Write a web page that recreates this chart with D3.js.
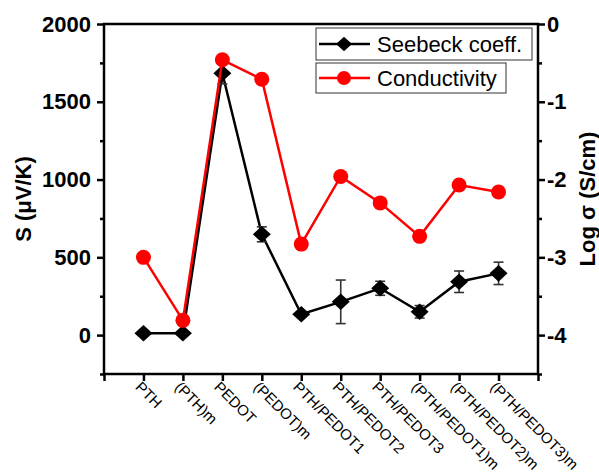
<!DOCTYPE html>
<meta charset="utf-8">
<head>
    <style>
        body {
            margin: 0;
            background: white;
            font-family: "Liberation Sans", Arial, sans-serif;
        }

        .ticklab {
            font-size: 22px;
            font-weight: bold;
        }

        .xlab {
            font-size: 15px;
        }
    </style>
</head>

<body>
    <script src="https://d3js.org/d3.v7.min.js"></script>
    <div id="graphs"></div>

    <script>
        // data
        var categories = ["PTH", "(PTH)m", "PEDOT", "(PEDOT)m", "PTH/PEDOT1", "PTH/PEDOT2",
            "PTH/PEDOT3", "(PTH/PEDOT1)m", "(PTH/PEDOT2)m", "(PTH/PEDOT3)m"];
        var seebeck = [12, 12, 1683, 648, 134, 214, 301, 150, 343, 397];
        var seebeckErr = [0, 0, 68, 48, 12, 140, 45, 40, 69, 72];
        var logSigma = [-3.0, -3.81, -0.46, -0.71, -2.83, -1.96, -2.30, -2.73, -2.07, -2.16];

        var leftTicks = [0, 500, 1000, 1500, 2000];
        var leftMinor = [-250, 250, 750, 1250, 1750];
        var rightTicks = [0, -1, -2, -3, -4];
        var rightMinor = [-0.5, -1.5, -2.5, -3.5, -4.5];

        var W = 599, H = 473;
        var pLeft = 104, pRight = 538, pTop = 24, pBottom = 374;

        var svg = d3.select("#graphs").append("svg")
            .attr("width", W)
            .attr("height", H);

        // scales
        var x = d3.scaleLinear().domain([-1, categories.length]).range([pLeft, pRight]);
        var yL = d3.scaleLinear().domain([-250, 2000]).range([pBottom, pTop]);
        var yR = d3.scaleLinear().domain([-4.5, 0]).range([pBottom, pTop]);

        // frame
        svg.append("rect")
            .attr("x", pLeft).attr("y", pTop)
            .attr("width", pRight - pLeft).attr("height", pBottom - pTop)
            .attr("fill", "none")
            .attr("stroke", "black")
            .attr("stroke-width", 2.5);

        // left axis
        var gl = svg.append("g")
            .attr("transform", "translate(" + pLeft + ",0)")
            .call(d3.axisLeft(yL).tickValues(leftTicks).tickSize(7).tickPadding(6).tickFormat(d3.format("d")));
        gl.selectAll("text").attr("class", "ticklab").attr("fill", "black");
        svg.append("g")
            .attr("transform", "translate(" + pLeft + ",0)")
            .call(d3.axisLeft(yL).tickValues(leftMinor).tickSize(4).tickFormat(""));

        // right axis
        var gr = svg.append("g")
            .attr("transform", "translate(" + pRight + ",0)")
            .call(d3.axisRight(yR).tickValues(rightTicks).tickSize(7).tickPadding(2).tickFormat(function (d) { return d === 0 ? "0" : "-" + Math.abs(d); }));
        gr.selectAll("text").attr("class", "ticklab").attr("fill", "black");
        svg.append("g")
            .attr("transform", "translate(" + pRight + ",0)")
            .call(d3.axisRight(yR).tickValues(rightMinor).tickSize(4).tickFormat(""));

        // bottom axis
        svg.append("g")
            .attr("transform", "translate(0," + pBottom + ")")
            .call(d3.axisBottom(x).tickValues(d3.range(-1, categories.length + 1)).tickSize(7).tickFormat(""));

        svg.selectAll(".domain").remove();
        svg.selectAll(".tick line").attr("stroke-width", 2.5);
        svg.selectAll("g").attr("font-family", null).attr("font-size", null);

        // category labels, rotated
        svg.append("g").selectAll("text")
            .data(categories)
            .enter()
            .append("text")
            .attr("class", "xlab")
            .attr("transform", function (d, i) { return "translate(" + (x(i) - 9) + "," + (pBottom + 14) + ") rotate(45)"; })
            .text(function (d) { return d; });

        // axis titles
        svg.append("text")
            .attr("transform", "translate(31," + ((pTop + pBottom) / 2) + ") rotate(-90)")
            .attr("text-anchor", "middle")
            .style("font-size", "22px")
            .style("font-weight", "bold")
            .text("S (μV/K)");

        svg.append("text")
            .attr("transform", "translate(595," + ((pTop + pBottom) / 2) + ") rotate(-90)")
            .attr("text-anchor", "middle")
            .style("font-size", "22px")
            .style("font-weight", "bold")
            .text("Log σ (S/cm)");

        var diamond = function (cx, cy, s) {
            return "M" + cx + "," + (cy - s * 0.92) + "L" + (cx + s) + "," + cy + "L" + cx + "," + (cy + s * 0.92) + "L" + (cx - s) + "," + cy + "Z";
        };

        // seebeck line
        var lineS = d3.line()
            .x(function (d, i) { return x(i); })
            .y(function (d) { return yL(d); });

        svg.append("path")
            .datum(seebeck)
            .attr("d", lineS)
            .attr("fill", "none")
            .attr("stroke", "black")
            .attr("stroke-width", 2.5);

        // error bars
        var eb = svg.append("g").attr("stroke", "#333").attr("stroke-width", 1.6);
        seebeck.forEach(function (v, i) {
            if (!seebeckErr[i]) return;
            var cx = x(i), y1 = yL(v + seebeckErr[i]), y2 = yL(v - seebeckErr[i]);
            eb.append("line").attr("x1", cx).attr("x2", cx).attr("y1", y1).attr("y2", y2);
            eb.append("line").attr("x1", cx - 5).attr("x2", cx + 5).attr("y1", y1).attr("y2", y1);
            eb.append("line").attr("x1", cx - 5).attr("x2", cx + 5).attr("y1", y2).attr("y2", y2);
        });

        svg.append("g").selectAll("path")
            .data(seebeck)
            .enter()
            .append("path")
            .attr("d", function (d, i) { return diamond(x(i), yL(d), 9); })
            .attr("fill", "black");

        // conductivity line
        var lineC = d3.line()
            .x(function (d, i) { return x(i); })
            .y(function (d) { return yR(d); });

        svg.append("path")
            .datum(logSigma)
            .attr("d", lineC)
            .attr("fill", "none")
            .attr("stroke", "#ff0000")
            .attr("stroke-width", 2.5);

        svg.append("g").selectAll("circle")
            .data(logSigma)
            .enter()
            .append("circle")
            .attr("cx", function (d, i) { return x(i); })
            .attr("cy", function (d) { return yR(d); })
            .attr("r", 7.5)
            .attr("fill", "#ff0000");

        // legend boxes
        var legend = svg.append("g");
        legend.append("rect").attr("x", 316).attr("y", 28).attr("width", 216).attr("height", 32)
            .attr("fill", "white").attr("stroke", "#333").attr("stroke-width", 1);
        legend.append("line").attr("x1", 319).attr("x2", 370).attr("y1", 44).attr("y2", 44)
            .attr("stroke", "black").attr("stroke-width", 2.5);
        legend.append("path").attr("d", diamond(344, 44, 8)).attr("fill", "black");
        legend.append("text").attr("x", 377).attr("y", 52).style("font-size", "22px").text("Seebeck coeff.");

        legend.append("rect").attr("x", 316).attr("y", 63).attr("width", 190).attr("height", 30)
            .attr("fill", "white").attr("stroke", "#333").attr("stroke-width", 1);
        legend.append("line").attr("x1", 319).attr("x2", 370).attr("y1", 78).attr("y2", 78)
            .attr("stroke", "#ff0000").attr("stroke-width", 2.5);
        legend.append("circle").attr("cx", 344).attr("cy", 78).attr("r", 7).attr("fill", "#ff0000");
        legend.append("text").attr("x", 377).attr("y", 86).style("font-size", "22px").text("Conductivity");
    </script>
</body>
